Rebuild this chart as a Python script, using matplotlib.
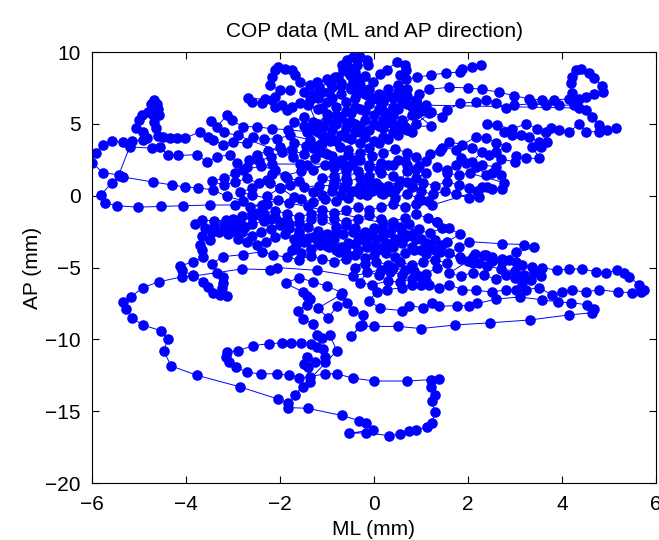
import matplotlib
matplotlib.use("Agg")
import matplotlib.pyplot as plt

# ---- COP trajectory (ML, AP) in mm, in path order ----
seg_top = [(2.28,9.10),(2.09,8.95),(1.88,8.80),(1.82,8.60),(1.54,8.55),(1.22,8.40),(0.92,8.25),(0.69,8.10),
           (0.55,8.40),(0.69,8.75),(0.65,9.10),(0.48,9.30),(0.27,8.75),(0.12,8.50),(-0.02,7.90),(-0.30,8.10),
           (-0.51,8.40),(-0.84,8.25),(-1.00,8.10),(-1.22,7.90),(-1.37,7.70),(-1.58,7.90),(-1.69,8.40),(-1.75,8.75),
           (-1.90,8.80),(-2.05,8.95),(-2.11,8.75),(-2.18,8.25),(-2.22,7.70),(-2.00,7.35),(-1.79,7.35),(-2.11,6.85),
           (-2.32,6.70),(-2.69,6.80),(-2.60,6.55),(-2.39,6.45),(-2.16,6.65),(-2.11,6.20),(-1.96,6.30),(-1.86,5.95),
           (-1.75,6.20),(-1.58,6.45),(-1.37,6.65),(-1.30,7.10),(-1.16,7.55),(-0.94,7.90),(-0.77,8.25),(-0.67,8.75),
           (-0.68,9.10),(-0.58,9.45),(-0.45,9.65),(-0.30,9.65),(-0.15,9.45),(-0.13,9.10),(-0.36,9.10),(-0.55,8.95),
           (-0.40,8.60),(-0.20,8.30)]

seg_core = [(-0.45,7.95),(-0.70,7.60),(-0.95,7.25),(-1.20,6.80),(-1.00,6.50),(-0.80,6.20),(-0.60,6.50),(-0.40,6.80),
            (-0.20,7.10),(0.00,6.80),(0.20,6.50),(0.40,6.20),(0.20,5.90),(0.00,5.60),(-0.20,5.90),(-0.40,6.20),
            (-0.60,5.90),(-0.80,5.60),(-1.00,5.30),(-0.80,5.00),(-0.60,4.70),(-0.40,5.00),(-0.20,5.30),(0.00,5.00),
            (0.20,4.70),(0.40,4.40),(0.20,4.10),(0.00,3.80),(-0.20,4.10),(-0.40,4.40),(-0.60,4.10),(-0.80,3.80),
            (-1.00,4.10),(-1.20,4.40),(-1.40,4.70),(-1.20,5.00),(-1.00,5.70),(-1.20,6.00),(-1.40,6.30),(-1.10,6.10),
            (-0.90,6.80),(-0.70,7.10),(-0.50,7.40),(-0.30,7.70),(-0.10,7.40),(0.10,7.10),(0.30,7.40),(0.50,7.70),
            (0.70,7.40),(0.60,7.00),(0.40,6.80),(0.60,6.50),(0.80,6.20),(1.00,5.90),(0.80,5.60),(0.60,5.30),
            (0.40,5.60),(0.20,5.30),(0.40,5.00),(0.60,4.70),(0.80,4.40),(0.65,4.80),(0.90,5.00),(1.18,5.75),
            (0.90,5.70),(1.22,4.85),(0.65,4.80),(0.92,6.30),(1.22,5.85)]

seg_right_up = [(1.45,5.50),(1.56,5.95),(1.82,6.45),(2.18,6.50),(2.39,6.65),(2.60,6.45),(2.81,6.10),(2.98,6.30),
                (3.37,6.40),(3.66,6.30),(3.94,6.30),(4.26,6.30),(4.22,7.15),(4.20,7.85),(4.22,8.25),(4.30,8.75),
                (4.41,8.80),(4.58,8.55),(4.68,8.20),(4.85,7.65),(4.87,7.20),(4.68,7.10),(4.51,6.90),(4.36,6.70),
                (4.15,6.75),(3.83,6.65),(3.58,6.65),(3.30,6.75),(2.98,6.95),(2.67,7.20),(2.30,7.40),(1.99,7.50),
                (1.60,7.55),(1.18,7.40),(0.95,7.10),(0.90,6.60),(1.10,6.30),
                (4.36,6.10),(4.51,5.95),(4.64,5.50),(4.79,4.90),(4.96,4.60),(5.15,4.70),(4.79,4.45),(4.51,4.45),
                (4.36,5.00),(4.15,4.40),(3.94,4.60),(3.77,4.70),(3.66,4.40),(3.69,3.75),(3.47,4.65),(3.24,5.00),
                (2.94,4.65),(2.62,4.90),(2.41,5.00),(2.77,4.45),(2.94,4.20),(3.13,4.20),(3.30,4.10),(3.52,3.75),
                (3.56,3.40),(3.37,3.40),(3.52,2.60),(3.24,2.60),(3.03,2.75),(3.00,2.35),(2.71,2.55),(2.45,2.85),
                (2.60,3.05),(2.81,3.40),(2.60,3.70),(2.39,4.00),(2.18,4.10),(1.88,3.55),(1.60,3.75),(1.40,3.10),
                (1.20,2.90)]

seg_right_mid = [(1.45,3.35),(1.75,3.20),(2.09,3.30),(2.30,3.05),(2.09,2.35),(1.85,2.60),(2.30,2.15),(2.60,2.00),
                 (2.71,1.45),(2.52,1.60),(2.39,1.45),(2.18,2.00),(1.95,2.30),(1.75,2.10),(1.55,1.80),(1.35,2.00),
                 (1.55,1.55),(1.80,1.45),(2.05,1.55),(2.77,0.90),(2.73,0.45),(2.52,0.45),(2.30,0.60),(2.03,0.50),
                 (1.80,0.75),(1.55,0.95),(1.30,0.70),(1.05,0.90),(0.80,0.60),(1.00,0.30),(1.25,0.10),(1.50,0.30),
                 (1.75,0.10),(2.03,-0.15),(2.24,-0.10),(2.41,0.60),(2.20,0.30),(1.24,-0.65),(1.00,-0.30)]

seg_column = [(0.70,3.00),(0.45,3.25),(0.20,3.00),(-0.05,2.75),(-0.30,3.00),(-0.55,2.80),(-0.40,2.50),(-0.65,2.20),
              (-0.85,1.95),(-0.60,1.70),(-0.85,1.40),(-1.10,1.20),(-0.85,0.95),(-0.60,1.20),(-0.35,1.70),(-0.10,1.40),
              (0.15,1.60),(0.40,1.35),(0.55,1.00),(0.30,0.70),(0.05,0.90),(-0.20,0.60),(-0.10,2.00),(0.15,2.30),
              (0.40,2.10),(0.65,2.40),(0.90,2.70),(1.10,2.40),(0.95,2.05),(0.70,1.75),(0.45,0.40),(0.15,0.20),
              (-0.15,0.05),(-0.40,0.30),(-0.65,0.50)]

seg_core2 = [(-1.50,7.25),(-1.30,6.95),(-1.10,7.25),(-0.90,7.55),(-0.70,7.85),(-0.50,7.55),(-0.30,7.25),
             (-0.10,6.95),(0.10,6.65),(0.30,6.95),(0.50,7.25),(0.70,6.95),(0.90,6.65),(0.70,6.35),(0.50,6.05),
             (0.30,5.75),(0.10,6.05),(-0.10,6.35),(-0.30,6.05),(-0.50,5.75),(-0.70,5.45),(-0.50,5.15),(-0.30,4.85),
             (-0.10,4.55),(0.10,4.85),(0.30,5.15),(0.50,4.85),(0.70,4.55),(0.50,4.25),(0.30,3.95),(0.10,3.65),
             (-0.10,3.35),(-0.30,3.65),(-0.50,3.95),(-0.70,4.25),(-0.90,4.55),(-1.10,4.85),(-1.30,5.15),(-1.50,5.45),
             (-1.70,5.15),(-1.50,4.85),(-1.30,4.55),(-1.10,4.25),(-0.90,3.95),(-1.10,3.65),(-1.30,3.35),(-1.10,3.05),
             (-0.90,2.75),(-0.70,2.45),(-0.50,2.15),(-0.30,2.45),(-0.10,2.15),(0.10,1.85),(0.30,2.15),(0.50,2.45),
             (0.70,2.15),(0.90,1.85),(1.10,1.55),(0.90,1.25),(0.70,0.95),(0.50,0.65),(0.30,0.35),(0.10,0.65),
             (-0.10,0.95),(-0.30,0.65),(-0.50,0.35),(-0.70,0.05),(-0.90,0.35),(-1.10,0.05),(-1.30,0.25)]

seg_left2 = [(-1.60,1.05),(-1.85,1.25),(-2.10,1.80),(-2.40,2.05),(-2.65,2.45),(-2.50,2.85),(-2.25,3.10),
             (-2.00,3.40),(-1.75,3.15),(-1.50,2.90),(-1.25,2.60),(-1.00,2.90),(-1.20,3.20),(-1.45,3.45),
             (-1.70,3.70),(-1.95,3.05),(-2.20,2.70),(-2.45,2.40),(-2.70,2.00),(-2.95,1.55),(-3.20,1.20),
             (-3.45,1.00),(-3.20,0.75),(-2.95,0.95),(-2.70,1.20),(-2.45,0.85),(-2.60,0.50),(-2.85,0.25),
             (-2.60,0.05)]

seg_band = [(1.20,-2.60),(1.45,-2.25),(1.35,-1.85),(1.15,-1.55),(0.90,-1.30),(0.65,-1.55),(0.40,-1.80),(0.15,-1.60),
            (-0.10,-1.35),(-0.35,-1.60),(-0.60,-1.85),(-0.85,-1.60),(-1.10,-1.40),(-1.35,-1.65),(-1.60,-1.90),
            (-1.85,-1.70),(-2.10,-1.50),(-2.35,-1.75),(-2.60,-2.00),(-2.85,-1.80),(-2.60,-1.50),(-2.35,-1.25),
            (-2.10,-1.05),(-1.85,-1.25),(-1.60,-1.50),(-1.35,-1.25),(-1.10,-1.00),(-0.85,-1.20),(-0.60,-1.00),
            (-0.35,-0.80),(-0.10,-1.00),(0.15,-0.80),(0.40,-0.55),(0.65,-0.80),(0.90,-0.60),(1.15,-0.40),
            (0.95,-0.15),(0.70,0.10),(0.45,-0.15),(0.20,0.10),(-0.05,0.35),(-0.30,0.10),(-0.55,-0.15),
            (-0.80,-0.40),(-1.05,-0.20),(-1.30,-0.45),(-1.55,-0.25),(-1.80,-0.50),(-2.05,-0.30),(-2.30,-0.55)]

seg_left = [(-2.39,-0.65),(-2.96,-0.65),(-3.49,-0.65),(-4.07,-0.70),(-4.53,-0.75),(-5.02,-0.80),(-5.47,-0.70),
            (-5.72,-0.50),(-5.81,0.05),(-5.58,0.90),(-5.40,1.40),(-5.34,1.30),(-4.70,0.95),(-4.30,0.75),(-4.02,0.60),
            (-3.75,0.55),(-3.43,0.40),(-3.13,-0.05),(-2.79,-0.35),(-2.47,-1.20),(-2.64,-0.80),(-2.28,-0.60),
            (-2.28,-0.05),(-2.00,0.55),(-1.79,0.75),(-1.48,0.60),(-1.16,0.70),(-0.88,0.70),(-0.58,0.95),(-0.30,1.25),
            (-0.45,2.30),(-0.88,2.20),(-1.58,2.20),(-2.16,2.20),(-2.79,1.80),(-2.92,2.30),(-3.07,2.85),(-3.34,2.70),
            (-3.56,2.35),(-3.77,2.85),(-4.17,2.80),(-4.39,2.85),(-4.56,3.40),(-4.73,3.30),(-5.19,3.40),(-5.34,3.75),
            (-5.58,3.80),(-5.77,3.55),(-5.92,3.00),(-6.00,2.30),(-5.77,1.60),(-5.43,1.45),
            (-5.15,3.80),(-4.92,3.90),(-4.83,4.00),(-4.92,4.45),(-5.07,4.70),(-5.00,5.25),(-4.94,5.60),(-4.81,5.80),
            (-4.70,5.60),(-4.58,5.60),(-4.60,6.00),(-4.62,6.40),(-4.68,6.65),(-4.74,6.40),(-4.68,5.10),(-4.64,4.70),
            (-4.60,4.15),(-4.49,4.10),(-4.34,4.00),(-4.19,4.00),(-4.02,4.00),(-3.70,4.45),(-3.54,4.10),(-3.43,3.90),
            (-3.22,3.55),(-3.00,3.75),(-2.71,3.65),(-2.58,4.10),(-2.33,3.95),(-2.07,3.95),(-1.79,4.20),(-1.37,3.90),
            (-1.16,3.55),(-0.94,3.80),(-0.73,3.40),(-0.56,3.20),
            (-0.30,4.45),(-0.58,5.05),(-0.88,5.00),(-1.09,4.80),(-1.43,4.45),(-1.84,4.60),(-2.16,4.65),(-2.50,4.80),
            (-2.79,4.80),(-3.03,5.25),(-3.13,5.60),(-3.34,4.80),(-3.47,5.20),(-3.20,4.40),(-2.90,4.20),
            (-1.73,2.70),(-1.43,2.15),(-1.30,1.80),(-1.05,2.15),(-1.55,1.70),(-1.90,1.40),(-2.16,1.50),(-2.28,1.10),
            (-2.22,0.90),(-2.00,0.55),(-1.70,-0.10),(-1.40,-0.70),(-1.10,-1.70),(-0.80,-2.20)]

seg_low = [(0.20,-2.80),(0.45,-3.00),(0.70,-2.75),(0.90,-3.05),(1.10,-3.30),(1.30,-3.10),(1.45,-3.45),(1.30,-3.80),
           (1.10,-4.05),(0.85,-3.80),(0.65,-4.00),(0.45,-4.25),(0.25,-4.00),(0.05,-3.75),(-0.15,-3.55),(-0.35,-3.80),
           (-0.55,-4.10),(-0.75,-3.90),(-0.95,-3.60),(-1.15,-3.40),(-1.35,-3.70),(-1.55,-4.00),(-1.75,-3.80),
           (-1.65,-3.45),(-1.45,-3.15),(-1.25,-2.90),(-1.05,-3.20),(-0.85,-3.00),(-0.65,-2.70),(-0.45,-2.50),
           (-0.25,-2.80),(-0.05,-2.60),(0.15,-2.30),(0.35,-2.50),(0.55,-2.20),(0.75,-2.00),(0.95,-2.30),(0.85,-2.60),
           (0.65,-2.85),(0.45,-3.10),(0.25,-3.30),(0.05,-3.05),(-0.15,-2.85),(-0.35,-3.10),(-0.55,-3.30),
           (-0.70,-3.60),(-0.90,-3.35),(-1.10,-3.10),(-1.30,-2.90),(-1.50,-3.20),(-1.70,-3.00),(-1.90,-2.70),
           (-2.10,-2.90),(-2.30,-3.20),(-2.50,-3.40),(-2.70,-3.20),(-2.90,-3.00),(-3.10,-2.70),(-3.30,-2.50),
           (-3.15,-2.20),(-2.95,-2.45),(-2.75,-2.20),(-2.90,-1.90),(-3.15,-1.70),(-3.40,-1.75),(-3.65,-1.70),
           (-3.80,-1.95),(-3.60,-2.25),(-3.40,-2.10),(-3.45,-2.55),(-3.65,-2.80),(-3.50,-3.10),(-3.70,-3.40),
           (-3.65,-3.75),(-3.64,-4.30),(-3.85,-4.60),(-4.13,-4.90),(-4.09,-5.20),(-3.85,-5.55),(-3.64,-6.00),
           (-3.54,-6.35),(-3.43,-6.75),(-3.13,-7.00),(-3.28,-6.90),(-3.24,-6.40),(-3.22,-6.05),(-3.22,-5.65),
           (-3.34,-5.40),(-3.45,-4.75),(-3.22,-4.25),(-2.79,-4.10),(-2.39,-3.90),(-2.15,-4.10),(-1.85,-4.30),
           (-1.60,-4.45),(-1.35,-4.20),(-1.10,-4.40),(-0.85,-4.60),(-0.60,-4.40)]

seg_low2 = [(-0.40,-4.15),(-0.20,-4.35),(0.00,-4.10),(0.20,-3.80),(0.40,-3.55),(0.60,-3.30),(0.80,-3.55),
            (1.00,-3.80),(1.20,-3.55),(1.00,-3.05),(0.80,-2.80),(0.60,-2.50),(0.40,-2.20),(0.20,-2.00),
            (0.00,-2.25),(-0.20,-2.55),(-0.40,-2.25),(-0.60,-2.05),(-0.80,-2.45),(-1.00,-2.70),(-1.20,-2.45),
            (-1.40,-2.20),(-1.60,-2.45),(-1.80,-2.25),(-2.00,-2.05),(-2.20,-2.30),(-2.40,-2.55),(-2.60,-2.80),
            (-2.80,-2.55),(-3.00,-2.25),(-3.20,-2.00),(-3.00,-1.60),(-2.80,-1.40),(-2.60,-1.20),(-2.40,-1.40),
            (-2.20,-1.60),(-2.00,-1.80),(-1.80,-2.00),(-1.60,-2.65),(-1.40,-2.95),(-1.20,-3.25),(-1.00,-3.50),
            (-0.80,-3.80),(-0.60,-3.60),(-0.40,-3.35),(-0.20,-3.15),(0.00,-3.40),(0.20,-3.60)]

seg_mid_low = [(-0.40,-5.00),(-0.20,-4.75),(0.05,-4.60),(0.30,-4.80),(0.55,-4.60),(0.80,-4.85),(1.05,-4.65),
               (1.30,-4.45),(1.55,-4.70),(1.35,-5.00),(1.10,-5.45),(0.85,-5.25),(0.60,-5.50),(0.35,-5.30),
               (0.10,-5.50),(-0.15,-5.30),(-0.30,-6.05),(-0.05,-6.20),(0.30,-5.95),(0.55,-6.00),(0.80,-5.80),
               (1.10,-5.95),(0.95,-5.60),(0.65,-5.20),(0.40,-5.00),(0.15,-5.15),(-0.45,-5.60)]

seg_loop = [(-1.22,-5.20),(-2.07,-5.00),(-2.22,-5.15),(-2.81,-5.10),(-3.85,-5.60),(-4.09,-5.65),(-4.58,-6.00),
            (-4.92,-6.40),(-5.17,-7.05),(-5.34,-7.40),(-5.28,-7.90),(-5.15,-8.50),(-4.92,-9.00),(-4.53,-9.40),
            (-4.39,-10.00),(-4.47,-10.80),(-4.32,-11.85),(-3.77,-12.50),(-2.86,-13.30),(-2.05,-14.15),(-1.84,-14.45),
            (-1.82,-14.75),(-1.41,-14.80),(-0.69,-15.30),(-0.16,-15.80),(-0.31,-15.70),(-0.03,-16.30),(-0.54,-16.55),
            (-0.16,-16.50),(0.31,-16.70),(0.56,-16.60),(0.75,-16.40),(0.90,-16.30),(1.12,-16.10),(1.24,-15.80),
            (1.29,-15.05),(1.24,-14.30),(1.29,-13.90),(1.22,-13.30),(1.39,-12.75),(1.22,-12.80),(0.71,-12.90),
            (0.01,-12.90),(-0.45,-12.70),(-0.79,-12.40),(-1.04,-12.40),(-1.37,-12.60),(-1.60,-12.70),(-1.81,-12.50),
            (-2.07,-12.40),(-2.41,-12.40),(-2.71,-12.30),(-2.94,-11.90),(-3.09,-11.60),(-3.15,-11.20),(-3.13,-10.90),
            (-2.90,-10.80),(-2.58,-10.45),(-2.24,-10.30),(-1.96,-10.25),(-1.77,-10.25),(-1.56,-10.25),(-1.33,-10.35),
            (-1.22,-10.50),(-1.09,-10.70),(-1.04,-11.20),(-1.04,-11.60),(-1.26,-11.55),(-1.43,-11.20),(-1.48,-11.75),
            (-1.41,-11.95),(-1.37,-13.00),(-1.52,-13.30),(-1.69,-13.90)]

seg_rows = [(-0.79,-10.80),(-0.94,-9.70),(-1.11,-9.90),(-1.22,-9.70),(-1.30,-8.90),(-1.51,-8.60),(-1.62,-8.00),
            (-1.43,-7.60),(-1.37,-7.20),(-1.43,-7.00),(-1.51,-6.70),(-1.88,-6.10),(-1.60,-5.70),(-1.30,-6.00),
            (-1.00,-6.30),(-0.68,-6.75),(-0.58,-7.45),(-0.79,-7.70),(-0.97,-8.50),(-1.20,-7.85),(-0.71,-6.90),
            (-0.45,-8.00),(-0.24,-8.30),(-0.26,-9.00),(-0.49,-9.80),(-0.30,-9.10),(0.01,-9.10),(0.52,-9.10),
            (1.00,-9.25),(1.73,-9.00),(2.47,-8.85),(3.32,-8.65),(4.15,-8.30),(4.64,-8.15),(4.68,-7.90),(4.54,-7.60),
            (4.20,-7.45),(3.92,-7.40),(3.58,-7.25),(3.10,-7.05),(2.60,-7.20),(2.20,-7.50),(2.03,-7.65),(1.77,-7.65),
            (1.39,-7.70),(1.24,-7.45),(1.05,-7.80),(0.75,-7.65),(0.60,-8.00),(0.12,-7.85),(-0.10,-7.30),(0.06,-6.70),
            (0.27,-6.55),(0.59,-6.40),(0.80,-6.20),(1.00,-6.25),(1.18,-6.25),(1.39,-6.40),(1.60,-6.20),(1.88,-6.55),
            (2.18,-6.60),(2.52,-6.70),(2.81,-6.55),(3.03,-6.55),(3.24,-6.55),(3.50,-6.40),(3.79,-6.90),(4.00,-6.70),
            (4.22,-6.60),(4.51,-6.70),(4.79,-6.55),(5.19,-6.70),(5.49,-6.75),(5.68,-6.70),(5.75,-6.55),(5.64,-6.20),
            (5.43,-5.65),(5.32,-5.35),(5.17,-5.20),(4.94,-5.35),(4.73,-5.30),(4.43,-5.10),(4.15,-5.10),(3.90,-5.20),
            (3.58,-5.00),(3.37,-4.95),(3.15,-4.80),(3.03,-4.65),(2.88,-4.45),(2.73,-4.40),(2.52,-4.25),(2.35,-4.10),
            (2.14,-4.05)]

seg_right_low = [(2.10,-4.30),(2.39,-4.10),(2.73,-4.45),(3.03,-3.95),(3.41,-3.60),(3.20,-3.40),(2.73,-3.35),
                 (2.03,-3.20),(1.80,-3.60),(1.60,-4.00),(1.85,-4.40),(2.10,-4.70),(2.40,-4.90),(2.70,-5.10),
                 (3.00,-5.25),(3.20,-5.50),(3.40,-5.30),(3.55,-5.60),(3.35,-5.85),(3.15,-6.05),(3.00,-5.75),
                 (2.80,-5.50),(2.60,-5.80),(2.35,-5.55),(2.10,-5.35),(1.85,-5.60),(1.60,-5.40),
                 (2.00,-4.55),(2.24,-4.70),(2.50,-4.55),(2.73,-4.60),(1.83,-4.30),(1.40,-3.90),(1.55,-3.20),
                 (1.83,-2.70),(1.60,-2.25),(1.33,-1.85)]

segments = [seg_top, seg_core, seg_right_up, seg_right_mid, seg_column, seg_core2, seg_left2, seg_band,
            seg_left, seg_low, seg_low2, seg_mid_low, seg_loop, seg_rows, seg_right_low]
path = [p for s in segments for p in s]
ml = [p[0] for p in path]
ap = [p[1] for p in path]

xticks = [-6, -4, -2, 0, 2, 4, 6]
yticks = [-20, -15, -10, -5, 0, 5, 10]

plt.rcParams['font.family'] = ['Liberation Sans', 'DejaVu Sans']
fig = plt.figure(figsize=(6.59, 5.40), dpi=100)
ax = fig.add_axes([92/659, 57/540, 564/659, 431/540])
ax.plot(ml, ap, '-', color='#0000ff', lw=0.7, marker='o', ms=6.6,
        markerfacecolor='#0000ff', markeredgecolor='#0000ff')
ax.set_xlim(-6, 6)
ax.set_ylim(-20, 10)
ax.set_xticks(xticks)
ax.set_yticks(yticks)
ax.tick_params(direction='in', length=5, width=0.8, top=True, right=True, labelsize=15)
ax.tick_params(axis='x', pad=9)
ax.tick_params(axis='y', pad=8)
for sp in ax.spines.values():
    sp.set_linewidth(0.8)
ax.set_title('COP data (ML and AP direction)', fontsize=15, pad=11)
ax.set_xlabel('ML (mm)', fontsize=15, labelpad=4)
ax.set_ylabel('AP (mm)', fontsize=15, labelpad=2)
fig.savefig('out.png', dpi=100)
